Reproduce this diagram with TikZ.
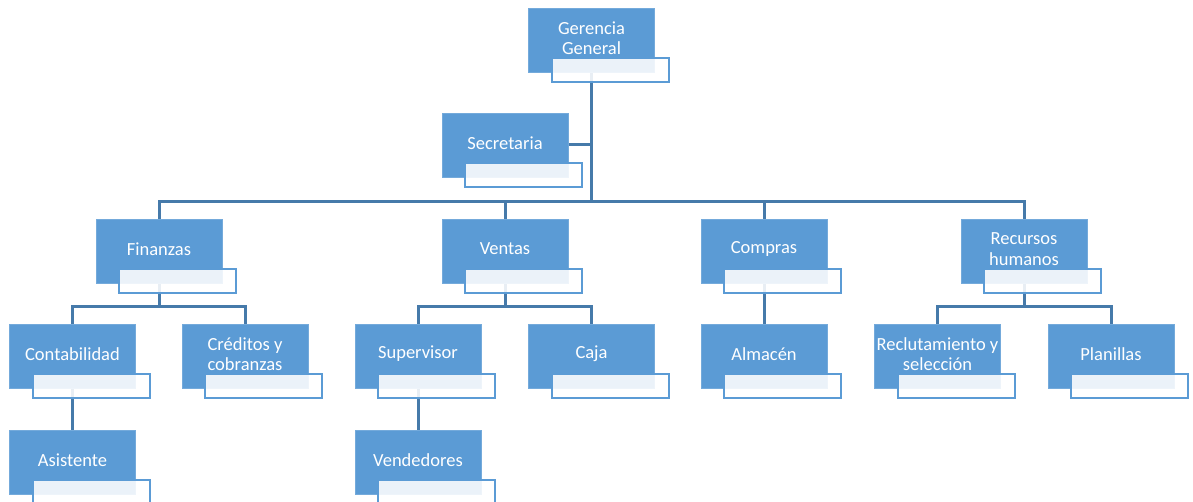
\documentclass[tikz,border=0pt]{standalone}
\usepackage{fontspec}
\setmainfont{Carlito}
\definecolor{boxblue}{RGB}{91,155,213}
\definecolor{linkblue}{RGB}{70,122,170}
\tikzset{
  mainbox/.style={rectangle, fill=boxblue, draw=boxblue!85!white, line width=0.6pt,
    minimum width=126pt, minimum height=64pt, inner sep=0pt},
  boxtext/.style={text=white, font=\fontsize{18.5}{20.5}\selectfont, align=center, inner sep=0pt},
  subbox/.style={rectangle, draw=boxblue, line width=2pt, fill=white, fill opacity=0.88,
    minimum width=117pt, minimum height=24pt, inner sep=0pt},
  conn/.style={draw=linkblue, line width=3pt},
}
\newcommand\orgunit[4]{%
  \node[mainbox] (#1) at (#2,#3) {};
  \node[boxtext] (#1-t) at (#2,#3-2) {#4};
  \node[subbox] (#1-s) at (#2+18.5,#3+30) {};
}
\begin{document}
\begin{tikzpicture}[x=1pt,y=-1pt]
\useasboundingbox (0,0) rectangle (1193,502);
\coordinate (b1) at (0,202);
\coordinate (b2) at (0,307);
\path (591.5,40) coordinate (pgg) (505,145) coordinate (psec)
      (159,251) coordinate (pfin) (505,251) coordinate (pven) (764,251) coordinate (pcom) (1024,251) coordinate (prh)
      (72.5,356) coordinate (pcont) (245,356) coordinate (pcred) (418,356) coordinate (psup) (591.5,356) coordinate (pcaja)
      (764,356) coordinate (palm) (937.5,356) coordinate (prec) (1111,356) coordinate (ppla)
      (72.5,462) coordinate (pasis) (418,462) coordinate (pvend);
% connectors (behind boxes)
\draw[conn] (pgg) -- (pgg |- b1);
\draw[conn] (psec) -- (psec -| pgg);
\draw[conn] (pfin) -- (pfin |- b1) -- (prh |- b1) -- (prh);
\draw[conn] (pven |- b1) -- (pven);
\draw[conn] (pcom |- b1) -- (pcom);
\draw[conn] (pfin) -- (pfin |- b2);
\draw[conn] (pcont) -- (pcont |- b2) -- (pcred |- b2) -- (pcred);
\draw[conn] (pven) -- (pven |- b2);
\draw[conn] (psup) -- (psup |- b2) -- (pcaja |- b2) -- (pcaja);
\draw[conn] (pcom) -- (palm);
\draw[conn] (prh) -- (prh |- b2);
\draw[conn] (prec) -- (prec |- b2) -- (ppla |- b2) -- (ppla);
\draw[conn] (pcont) -- (pasis);
\draw[conn] (psup) -- (pvend);
% boxes
\orgunit{gg}{591.5}{40}{Gerencia\\General}
\orgunit{sec}{505}{145}{Secretaria}
\orgunit{fin}{159}{251}{Finanzas}
\orgunit{ven}{505}{251}{Ventas}
\orgunit{com}{764}{251}{Compras}
\orgunit{rh}{1024}{251}{Recursos\\humanos}
\orgunit{cont}{72.5}{356}{Contabilidad}
\orgunit{cred}{245}{356}{Créditos y\\cobranzas}
\orgunit{sup}{418}{356}{Supervisor}
\orgunit{caja}{591.5}{356}{Caja}
\orgunit{alm}{764}{356}{Almacén}
\orgunit{rec}{937.5}{356}{Reclutamiento y\\selección}
\orgunit{pla}{1111}{356}{Planillas}
\orgunit{asis}{72.5}{462}{Asistente}
\orgunit{vend}{418}{462}{Vendedores}
\end{tikzpicture}
\end{document}
